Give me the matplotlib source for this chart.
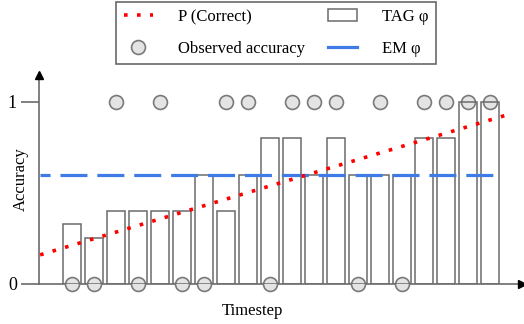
import matplotlib
matplotlib.use('Agg')
import matplotlib.pyplot as plt
from matplotlib.patches import Patch
from matplotlib.lines import Line2D

# datos
timesteps = list(range(1, 21))
tag_phi = [0.33, 0.25, 0.4, 0.4, 0.4, 0.4, 0.6, 0.4, 0.6, 0.8,
           0.8, 0.6, 0.8, 0.6, 0.6, 0.6, 0.8, 0.8, 1.0, 1.0]
observed = [0, 0, 1, 0, 1, 0, 0, 1, 1, 0,
            1, 1, 1, 0, 1, 0, 1, 1, 1, 1]
p_t = [-0.45, 20.8]
p_correct = [0.16, 0.93]
em_t = [-0.45, 20.3]
em_phi = [0.6, 0.6]

plt.rcParams['font.family'] = ['Liberation Serif', 'DejaVu Serif']

fig = plt.figure(figsize=(5.24, 3.24), dpi=100)
ax = fig.add_axes([39 / 524, 40 / 324, 483 / 524, 209 / 324])
ax.set_xlim(-0.5, 21.45)
ax.set_ylim(0, 1.148)

gris = '#6b6b6b'
rojo_ls = (0, (1, 2.6))
ax.scatter(timesteps, observed, s=10 ** 2, facecolor='#e4e4e4', edgecolor='#7a7a7a',
           linewidth=1.2, zorder=3, clip_on=False)
ax.bar(timesteps, tag_phi, width=0.8, facecolor='none', edgecolor=gris, linewidth=1.1, zorder=4)
ax.plot(em_t, em_phi, color='#3f7be6', linewidth=2.3, linestyle=(5.3, (8.45, 3.1)),
        dash_capstyle='butt', zorder=5)
ax.plot(p_t, p_correct, color='#ff0000', linewidth=2.6, linestyle=rojo_ls,
        dash_capstyle='butt', zorder=6)

# ejes con flechas
for lado in ['top', 'right']:
    ax.spines[lado].set_visible(False)
for lado in ['left', 'bottom']:
    ax.spines[lado].set_color(gris)
    ax.spines[lado].set_linewidth(1.2)
    ax.spines[lado].set_zorder(1)
ax.plot(1, 0, '>', color='black', markersize=6, transform=ax.get_yaxis_transform(), clip_on=False)
ax.plot(-0.5, 1, '^', color='black', markersize=6, transform=ax.get_xaxis_transform(), clip_on=False)

ax.set_xticks([])
ax.set_yticks([0, 1])
ax.set_yticklabels(['0', '1'])
ax.tick_params(axis='y', length=13, width=1.2, color=gris, labelsize=13, pad=3)

ax.set_ylabel('Accuracy', fontsize=12)
ax.yaxis.set_label_coords(-0.022, 0.5)
ax.set_xlabel('Timestep', fontsize=12)
ax.xaxis.set_label_coords(0.442, -0.09)

handles = [
    Line2D([], [], color='#ff0000', linewidth=2.6, linestyle=rojo_ls),
    Line2D([], [], linestyle='none', marker='o', markersize=10, markerfacecolor='#e4e4e4',
           markeredgecolor='#7a7a7a', markeredgewidth=1.2),
    Patch(facecolor='white', edgecolor=gris, linewidth=1.1),
    Line2D([], [], color='#3f7be6', linewidth=2.3),
]
labels = ['P (Correct)', 'Observed accuracy', 'TAG φ', 'EM φ']
leg = fig.legend(handles, labels, ncol=2, loc='upper center', bbox_to_anchor=(0.527, 0.995),
                 fontsize=12, frameon=True, fancybox=False, handlelength=1.75,
                 columnspacing=1.4, handletextpad=1.5, labelspacing=0.95, borderpad=0.45,
                 borderaxespad=0)
leg.get_frame().set_edgecolor('#444444')
leg.get_frame().set_linewidth(1.2)

fig.savefig('out.png', dpi=100)
